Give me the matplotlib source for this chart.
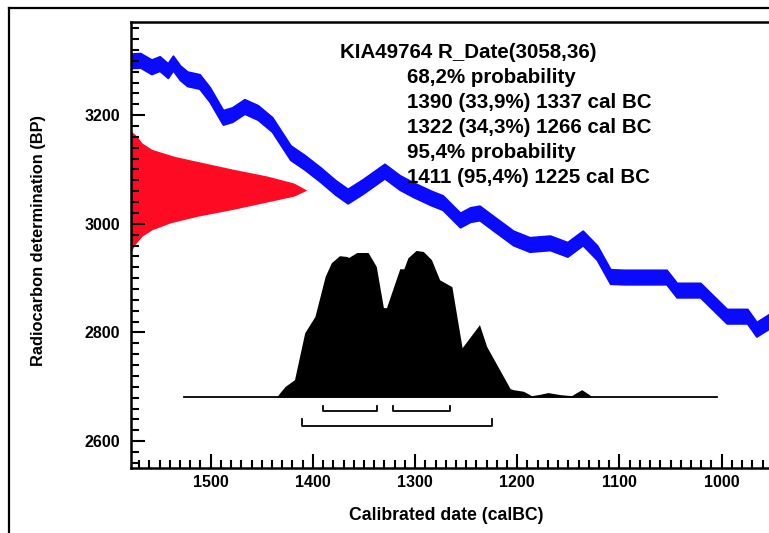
import numpy as np
import matplotlib as mpl
mpl.use('Agg')
import matplotlib.pyplot as plt
from matplotlib.lines import Line2D

plt.rcParams['font.family'] = ['Liberation Sans', 'DejaVu Sans']
plt.rcParams['font.weight'] = 'bold'

##### calibration curve (cal BC, BP)
curve_bc = [1578, 1569, 1558, 1550, 1542, 1537, 1530, 1523, 1511, 1501, 1488, 1479,
            1467, 1454, 1440, 1422, 1408, 1393, 1378, 1366, 1351, 1330, 1315, 1302,
            1285, 1273, 1256, 1246, 1237, 1222, 1204, 1188, 1168, 1151, 1136, 1122,
            1109, 1095, 1054, 1044, 1021, 995, 975, 966, 954, 946]
curve_bp = [3300, 3301, 3289, 3295, 3282, 3296, 3278, 3267, 3262, 3238, 3196, 3201,
            3216, 3205, 3183, 3131, 3113, 3091, 3067, 3051, 3069, 3097, 3076, 3063,
            3048, 3039, 3007, 3017, 3020, 2999, 2974, 2962, 2965, 2953, 2974, 2947,
            2903, 2902, 2902, 2878, 2878, 2830, 2830, 2806, 2820, 2840]
curve_err = 13

##### R_Date(3058,36) - radiocarbon measurement (BP, relative density)
rdate_bp = [3171, 3161, 3149, 3137, 3124, 3112, 3100, 3088, 3075, 3062,
            3051, 3039, 3026, 3014, 3002, 2989, 2977, 2962, 2949]
rdate_p = [0.0, 0.034, 0.062, 0.119, 0.249, 0.418, 0.588, 0.774, 0.927, 1.0,
           0.927, 0.757, 0.571, 0.379, 0.226, 0.119, 0.062, 0.023, 0.0]

##### calibrated distribution (cal BC, relative probability)
post_bc = [1436, 1435, 1432, 1427, 1418, 1408, 1398, 1388, 1382, 1374, 1367, 1365,
           1357, 1346, 1338, 1331, 1328, 1315, 1311, 1307, 1299, 1292, 1284, 1276,
           1264, 1254, 1237, 1230, 1207, 1204, 1194, 1186, 1178, 1170, 1158, 1147,
           1137, 1129, 1128]
post_p = [0.0, 0.005, 0.033, 0.074, 0.119, 0.439, 0.550, 0.823, 0.916, 0.964, 0.959, 0.952,
          0.986, 0.986, 0.891, 0.610, 0.610, 0.875, 0.875, 0.950, 1.0, 0.993, 0.937, 0.800,
          0.753, 0.337, 0.494, 0.346, 0.058, 0.051, 0.040, 0.010, 0.019, 0.031, 0.017, 0.010,
          0.051, 0.015, 0.0]

range68 = [(1390, 1337), (1322, 1266)]
range95 = [(1411, 1225)]

text_lines = ["KIA49764 R_Date(3058,36)",
              "68,2% probability",
              "1390 (33,9%) 1337 cal BC",
              "1322 (34,3%) 1266 cal BC",
              "95,4% probability",
              "1411 (95,4%) 1225 cal BC"]

W, H = 769, 533
fig = plt.figure(figsize=(W/100, H/100), dpi=100)
ax = fig.add_axes([131/W, 1-468.3/H, (774.8-131)/W, (468.3-21.7)/H])

xlim = (1578, 948)
ylim = (2550, 3372)

# calibration curve band
cbc = np.array(curve_bc)
cbp = np.array(curve_bp)
ax.fill_between(cbc, cbp-curve_err, cbp+curve_err, color='#0a0aff', lw=1.5, ec='#0a0aff')

# radiocarbon date on the y axis
red_w = 172
ax.fill_betweenx(rdate_bp, xlim[0], xlim[0]-np.array(rdate_p)*red_w, color='#ff0a23', lw=0)

# calibrated distribution
base = 2681
ph = 270
ax.fill_between(post_bc, base, base+np.array(post_p)*ph, color='black', lw=0)
ax.plot([1526, 1005], [base, base], color='black', lw=1.3)

# ranges
def bracket(a, b, y, h):
    ax.plot([a, a, b, b], [y+h, y, y, y+h], color='black', lw=1.3)

for a, b in range68:
    bracket(a, b, 2655, 10)
for a, b in range95:
    bracket(a, b, 2627, 13)

ax.set_xlim(*xlim)
ax.set_ylim(*ylim)
ax.set_xticks([1500, 1400, 1300, 1200, 1100, 1000])
ax.set_xticks(np.arange(1570, 940, -10), minor=True)
ax.set_yticks([2600, 2800, 3000, 3200])
ax.set_yticks(np.arange(2560, 3380, 20), minor=True)
ax.tick_params(which='both', direction='in', width=1.5, labelsize=11.5)
ax.tick_params(which='major', length=10)
ax.tick_params(which='minor', length=6)
ax.tick_params(axis='y', pad=8)
ax.tick_params(axis='x', pad=5)
for lab in ax.get_xticklabels() + ax.get_yticklabels():
    lab.set_fontweight('bold')
for s in ['left', 'bottom', 'top']:
    ax.spines[s].set_linewidth(1.8)
ax.spines['right'].set_visible(False)

fig.text(39/W, 1-241/H, "Radiocarbon determination (BP)", rotation=90,
         ha='center', va='center', fontsize=11.8, fontweight='bold')
fig.text(446/W, 1-516/H, "Calibrated date (calBC)", ha='center', va='center',
         fontsize=12.7, fontweight='bold')

for i, t in enumerate(text_lines):
    x0 = 340 if i == 0 else 407
    fig.text(x0/W, 1-(58.3+25*i)/H, t, ha='left', va='baseline',
             fontsize=14.8, fontweight='bold')

# outer frame
fig.add_artist(Line2D([9, W+5], [H-8, H-8], transform=None, color='black', lw=1.6))
fig.add_artist(Line2D([9, 9], [H-8, -5], transform=None, color='black', lw=1.6))

plt.savefig("out.png", dpi=100)
plt.close()
